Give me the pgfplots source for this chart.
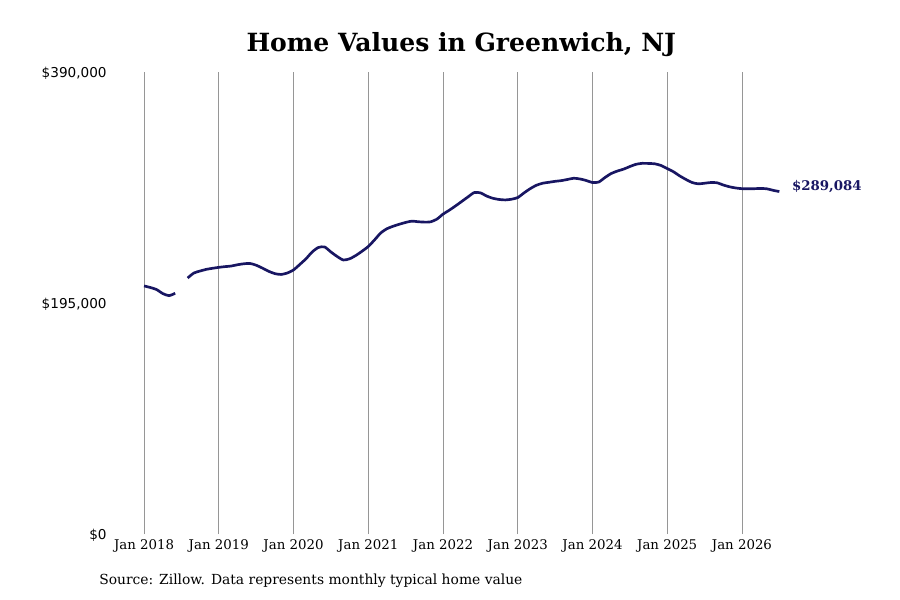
\documentclass[border=0pt]{standalone}
\usepackage{pgfplots}
\pgfplotsset{compat=1.18}
\usepackage{pgfplotstable}
\usepackage{fontspec}
\setmainfont{DejaVu Serif}
\setsansfont{DejaVu Sans}
\definecolor{zline}{RGB}{24,22,98}
\definecolor{zgrid}{RGB}{150,150,150}

% month index (0 = Jan 2018), typical home value in thousands
\pgfplotstableread{
m v
0 209.4
1 208.1
2 206.4
3 203.0
4 201.2
5 203.2
6 nan
7 216.1
8 220.3
9 222.0
10 223.4
11 224.3
12 225.1
13 225.7
14 226.2
15 227.3
16 228.1
17 228.4
18 226.9
19 224.5
20 221.8
21 219.8
22 219.1
23 220.3
24 222.9
25 227.5
26 232.3
27 238.1
28 241.9
29 242.3
30 238.1
31 234.3
32 231.3
33 232.3
34 235.1
35 238.7
36 242.7
37 248.2
38 254.1
39 257.7
40 259.8
41 261.5
42 263.0
43 264.1
44 263.6
45 263.3
46 263.5
47 265.7
48 270.0
49 273.3
50 276.9
51 280.7
52 284.5
53 288.2
54 288.0
55 285.3
56 283.4
57 282.4
58 282.0
59 282.6
60 284.0
61 287.9
62 291.5
63 294.4
64 296.1
65 296.9
66 297.7
67 298.3
68 299.3
69 300.3
70 299.7
71 298.4
72 296.7
73 297.1
74 300.9
75 304.3
76 306.4
77 308.0
78 310.2
79 312.1
80 312.9
81 312.8
82 312.5
83 311.1
84 308.5
85 305.8
86 302.3
87 299.3
88 296.7
89 295.6
90 296.1
91 296.7
92 296.5
93 294.6
94 293.1
95 292.1
96 291.5
97 291.5
98 291.5
99 291.7
100 291.4
101 290.1
102 289.084
}\homevalues

\begin{document}
\begin{tikzpicture}
\useasboundingbox (0,0) rectangle (675pt,450pt);
\node[font=\bfseries\fontsize{18.8}{21}\selectfont] at (346pt,416.5pt) {Home Values in Greenwich, NJ};
\node[anchor=west, font=\fontsize{10.4}{12}\selectfont, inner sep=0pt] at (74.25pt,14.25pt) {Source: Zillow. Data represents monthly typical home value};
\begin{axis}[
  at={(87pt,49.5pt)}, anchor=south west,
  scale only axis=true,
  width=497.5pt, height=346.5pt,
  xmin=-4.5, xmax=102,
  ymin=0, ymax=390,
  clip=false,
  axis line style={draw=none},
  major tick length=0pt,
  xtick={0,12,...,96},
  xticklabels={Jan 2018,Jan 2019,Jan 2020,Jan 2021,Jan 2022,Jan 2023,Jan 2024,Jan 2025,Jan 2026},
  xticklabel style={font=\fontsize{10}{12}\selectfont, yshift=-1pt},
  ytick={0,195,390},
  yticklabels={{\$0},{\$195,000},{\$390,000}},
  yticklabel style={font=\sffamily\fontsize{10.2}{12}\selectfont, xshift=-3.5pt, yshift=-1.2pt},
  xmajorgrids=true,
  ymajorgrids=false,
  grid style={zgrid, line width=0.6pt},
  unbounded coords=jump,
]
\addplot[color=zline, line width=2pt, smooth, tension=0.4] table[x=m, y=v] {\homevalues};
\node[anchor=west, font=\bfseries\fontsize{10}{12}\selectfont, text=zline, xshift=6pt, yshift=4pt] at (axis cs:102,289.084) {\$289,084};
\end{axis}
\end{tikzpicture}
\end{document}
